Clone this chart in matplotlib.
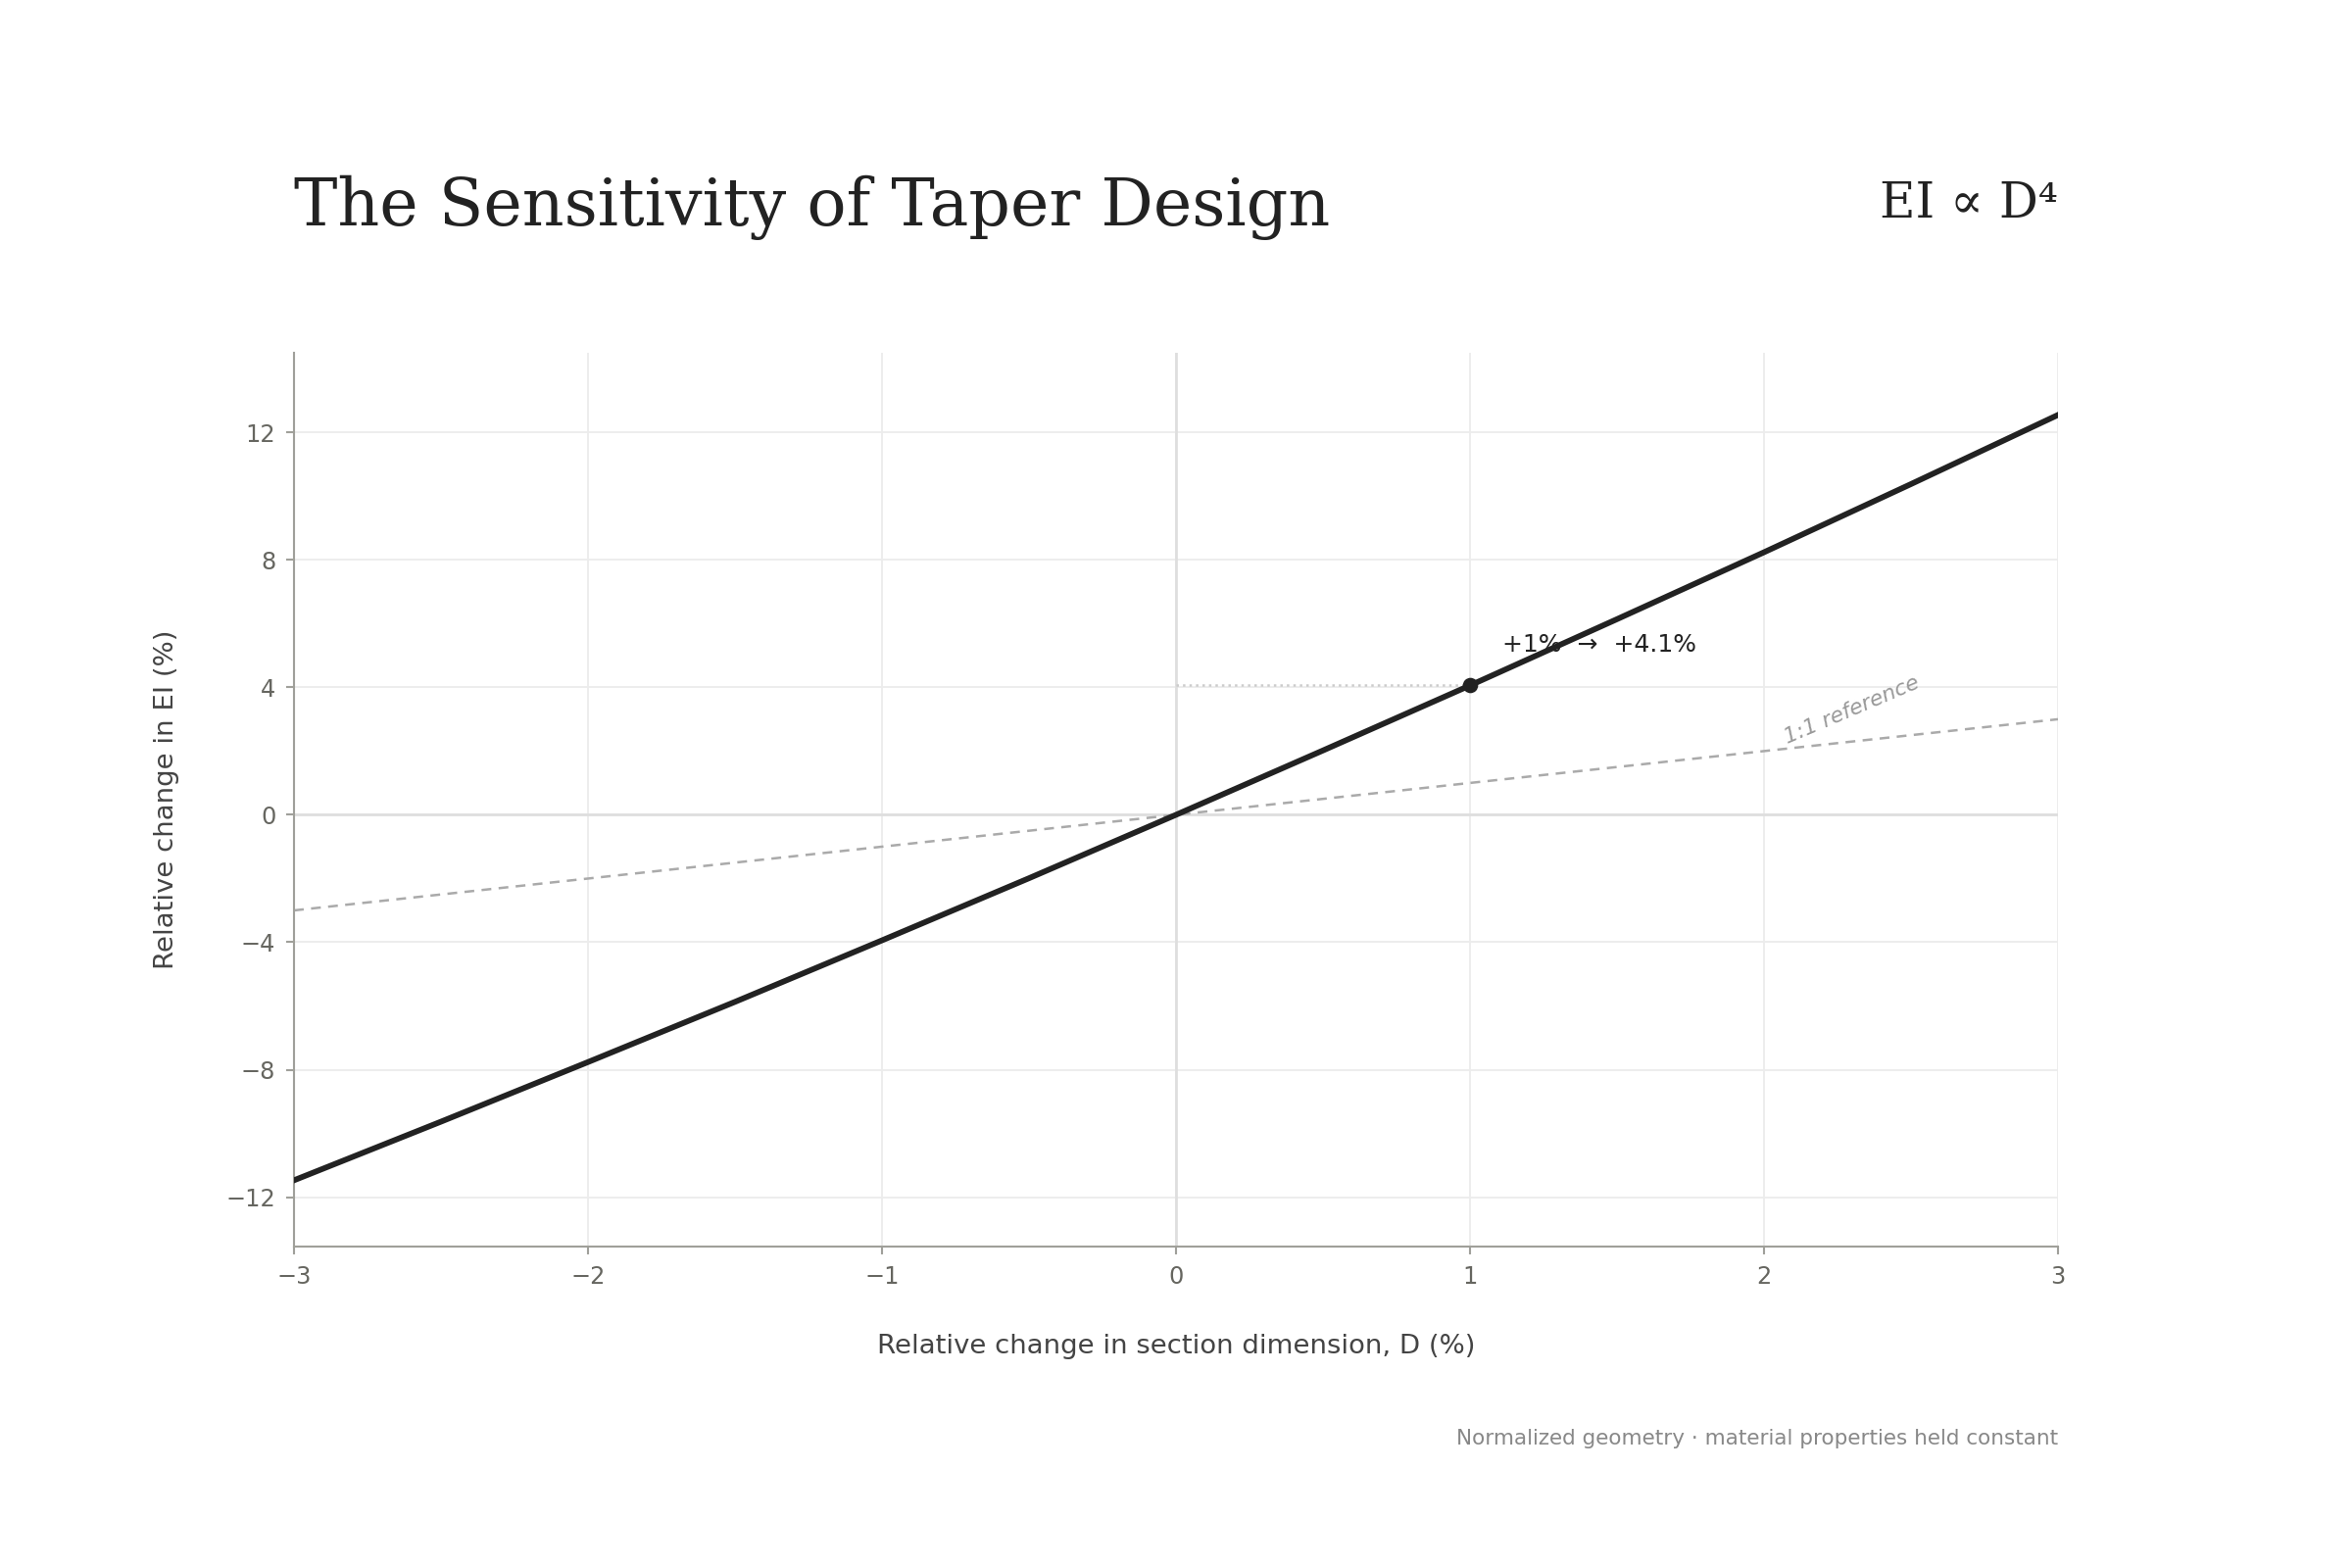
import matplotlib
matplotlib.use("Agg")
import matplotlib.pyplot as plt

# values
d_change = [-3.0, -2.5, -2.0, -1.5, -1.0, -0.5, 0.0, 0.5, 1.0, 1.5, 2.0, 2.5, 3.0]
ei_change = [-11.47, -9.63, -7.76, -5.87, -3.94, -1.99, 0.0,
             2.02, 4.06, 6.14, 8.24, 10.38, 12.55]
ref_x = [-3.0, 3.0]
ref_y = [-3.0, 3.0]
marker_d = 1.0
marker_ei = 4.06
x_ticks = [-3, -2, -1, 0, 1, 2, 3]
y_ticks = [-12, -8, -4, 0, 4, 8, 12]

plt.rcParams['font.family'] = ['DejaVu Sans']

fig = plt.figure(figsize=(16, 10.6667), dpi=150)
ax = fig.add_axes([0.125, 0.205, 0.75, 0.57])

ax.set_xlim(-3, 3)
ax.set_ylim(-13.55, 14.5)
ax.set_xticks(x_ticks)
ax.set_yticks(y_ticks)

ax.grid(True, color='#ececec', linewidth=0.9)
ax.set_axisbelow(True)
ax.axhline(0, color='#dedede', linewidth=1.3, zorder=1)
ax.axvline(0, color='#dedede', linewidth=1.3, zorder=1)

# 1:1 reference
ax.plot(ref_x, ref_y, color='#aaaaaa', linewidth=1.2, linestyle=(0, (4, 3)), zorder=2)
ax.text(2.3, 3.28, '1:1 reference', rotation=23, ha='center', va='center',
        fontsize=10.5, style='italic', color='#999999')

# guide to the +1% point
ax.plot([0, marker_d], [marker_ei, marker_ei], color='#cccccc', linewidth=1.2,
        linestyle=':', zorder=2)

ax.plot(d_change, ei_change, color='#222222', linewidth=2.8, zorder=3)
ax.plot([marker_d], [marker_ei], 'o', color='#222222', markersize=6.5, zorder=4)
ax.annotate('+1%  \u2192  +4.1%', xy=(marker_d, marker_ei), xytext=(16, 20),
            textcoords='offset points', ha='left', va='center',
            fontsize=12, color='#222222')

for s in ['top', 'right']:
    ax.spines[s].set_visible(False)
for s in ['left', 'bottom']:
    ax.spines[s].set_color('#a0a09a')
    ax.spines[s].set_linewidth(1.0)

ax.tick_params(axis='both', colors='#a0a09a', labelcolor='#666660',
               labelsize=11.5, length=4, width=1, pad=5)

ax.set_xlabel('Relative change in section dimension, D (%)', fontsize=13.2,
              color='#444444', labelpad=22)
ax.set_ylabel('Relative change in EI (%)', fontsize=13.2,
              color='#444444', labelpad=23)

fig.text(0.125, 1 - 230 / 1600, 'The Sensitivity of Taper Design',
         family=['DejaVu Serif', 'DejaVu Sans'], fontsize=32,
         color='#222222', ha='left', va='baseline')
fig.text(0.875, 1 - 222 / 1600, 'EI \u221d D\u2074',
         family=['DejaVu Serif', 'DejaVu Sans'], fontsize=24,
         color='#222222', ha='right', va='baseline')
fig.text(0.875, 1 - 1474 / 1600,
         'Normalized geometry \u00b7 material properties held constant',
         fontsize=10.35, color='#888888', ha='right', va='baseline')

fig.savefig('out.png', dpi=150, facecolor='white')
